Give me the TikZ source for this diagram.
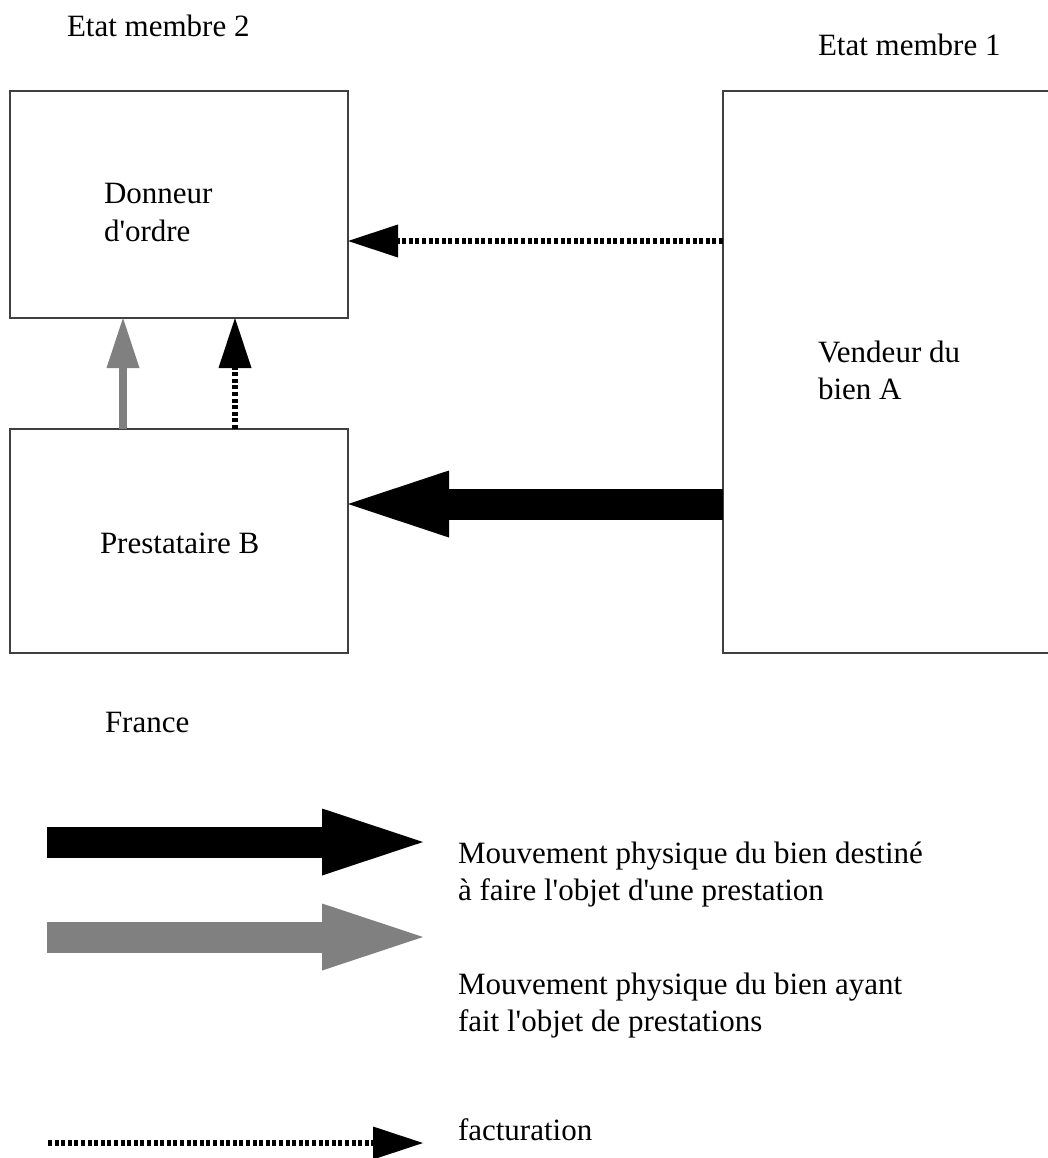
\documentclass[tikz,border=0pt]{standalone}
\usepackage{fontspec}
\setmainfont{Liberation Serif}[Ligatures=TeXOff]
\usetikzlibrary{arrows.meta}
\definecolor{midgrey}{HTML}{808080}
\newcommand\mlines[1]{\begin{tabular}[t]{@{}l@{}}#1\end{tabular}}
\begin{document}
\begin{tikzpicture}[x=1pt,y=-1pt,
  box/.style={draw=black!75, line width=1.3pt, inner sep=0pt, outer sep=0pt, anchor=north west},
  lbl/.style={anchor=base west, inner sep=0pt, outer sep=0pt, font=\fontsize{31}{37.5}\selectfont},
  bigarrow/.style={line width=31pt, -{Triangle[length=101pt,width=67pt,line width=0pt]}},
  thinarrow/.style={line width=7.5pt, -{Triangle[length=50pt,width=33pt,line width=0pt]}},
  dotarrow/.style={line width=6.5pt, dash pattern=on 4pt off 2.6pt, -{Triangle[length=50pt,width=33pt,line width=0pt]}}
]
\useasboundingbox (0,0) rectangle (1048,1158);
\clip (0,0) rectangle (1048,1158);
\fill[white] (0,0) rectangle (1048,1158);

% boxes
\node[box, minimum width=338pt, minimum height=227pt] (don) at (10,91) {};
\node[box, minimum width=338pt, minimum height=224pt] (pre) at (10,429) {};
\node[box, minimum width=345pt, minimum height=562pt] (ven) at (723,91) {};

% labels
\node[lbl] (em2) at (67,37) {Etat membre 2};
\node[lbl] (em1) at (818,56) {Etat membre 1};
\node[lbl] (tdon) at (104,204) {\mlines{Donneur\\d'ordre}};
\node[lbl] (tven) at (818,362) {\mlines{Vendeur du\\bien A}};
\node[lbl] (tpre) at (100,553) {Prestataire B};
\node[lbl] (fr) at (105,732) {France};

% connectors
\draw[dotarrow, black] ([yshift=-36.5pt]don.east -| ven.west) -- ([yshift=-36.5pt]don.east);
\draw[bigarrow, black] ([yshift=37pt]pre.east -| ven.west) -- ([yshift=37pt]pre.east);
\draw[thinarrow, midgrey] ([xshift=-56pt]pre.north) -- ([xshift=-56pt]pre.north |- don.south);
\draw[dotarrow, black] ([xshift=56pt]pre.north) -- ([xshift=56pt]pre.north |- don.south);

% legend
\coordinate (l1s) at (47,842);
\coordinate (l1e) at (423,842);
\coordinate (l2s) at (47,937);
\coordinate (l2e) at (423,937);
\coordinate (l3s) at (48,1143);
\coordinate (l3e) at (423,1143);
\draw[bigarrow, black] (l1s) -- (l1e);
\draw[bigarrow, midgrey] (l2s) -- (l2e);
\draw[dotarrow, black] (l3s) -- (l3e);
\node[lbl] (t1) at (458,863) {\mlines{Mouvement physique du bien destiné\\à faire l'objet d'une prestation}};
\node[lbl] (t2) at (458,994) {\mlines{Mouvement physique du bien ayant\\fait l'objet de prestations}};
\node[lbl] (t3) at (458,1140) {facturation};
\end{tikzpicture}
\end{document}
